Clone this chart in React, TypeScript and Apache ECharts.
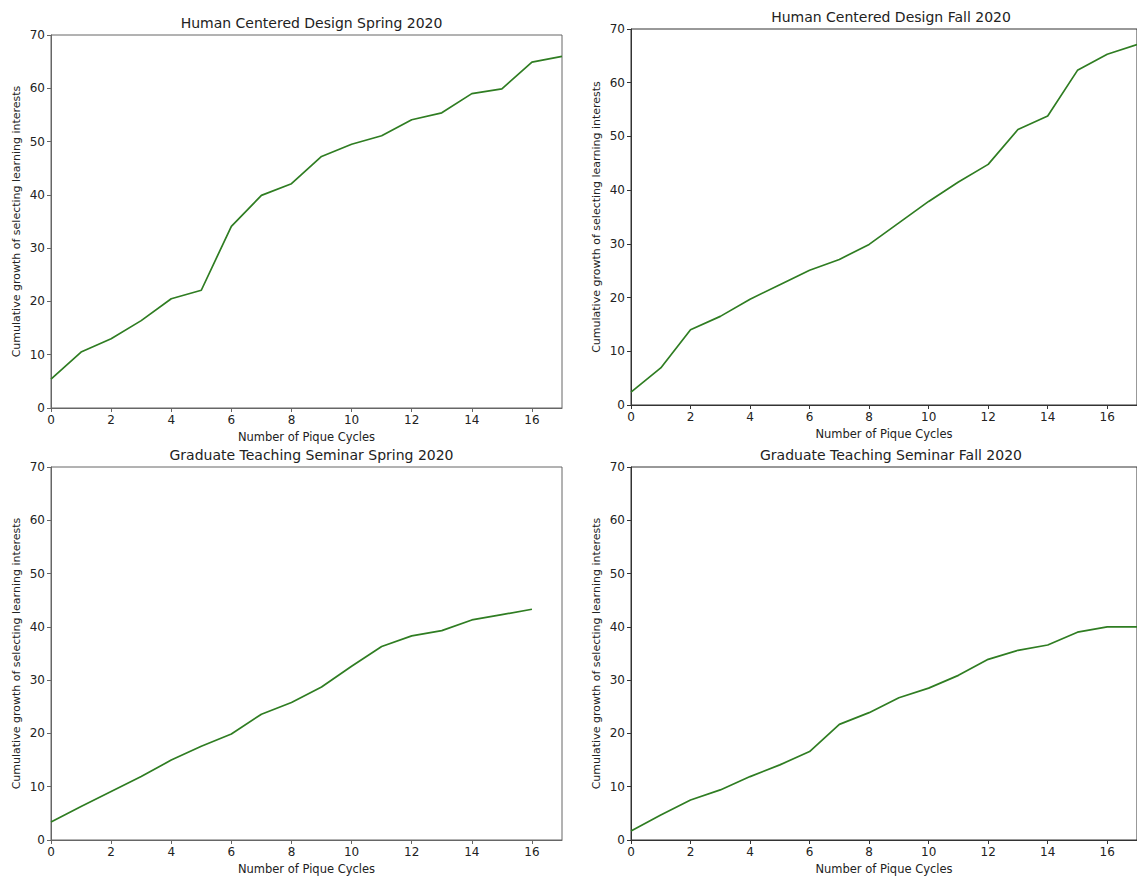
import React, { useEffect, useRef } from "react";
import * as echarts from "echarts";

const cycles = [0, 1, 2, 3, 4, 5, 6, 7, 8, 9, 10, 11, 12, 13, 14, 15, 16, 17];
const cyclesGTS = [0, 1, 2, 3, 4, 5, 6, 7, 8, 9, 10, 11, 12, 13, 14, 15, 16];
const hcdSpring = [5.4, 10.5, 13.0, 16.4, 20.5, 22.1, 34.1, 39.9, 42.1, 47.2, 49.5, 51.1, 54.1, 55.4, 59.0, 59.9, 64.9, 66.0];
const hcdFall = [2.4, 6.9, 14.0, 16.5, 19.7, 22.4, 25.1, 27.1, 29.9, 33.9, 37.9, 41.5, 44.8, 51.3, 53.8, 62.3, 65.3, 67.1];
const gtsSpring = [3.4, 6.3, 9.1, 11.9, 15.0, 17.6, 19.9, 23.6, 25.8, 28.7, 32.6, 36.3, 38.3, 39.3, 41.3, 42.3, 43.3];
const gtsFall = [1.7, 4.7, 7.5, 9.4, 11.9, 14.1, 16.6, 21.7, 23.9, 26.7, 28.5, 30.9, 33.9, 35.6, 36.6, 39.0, 40.0, 40.0];
const titles = [
  "Human Centered Design Spring 2020",
  "Human Centered Design Fall 2020",
  "Graduate Teaching Seminar Spring 2020",
  "Graduate Teaching Seminar Fall 2020",
];
const xTicks = [0, 2, 4, 6, 8, 10, 12, 14, 16];
const yTicks = [0, 10, 20, 30, 40, 50, 60, 70];
const xLabel = "Number of Pique Cycles";
const yLabel = "Cumulative growth of selecting learning interests";

const FONT = "DejaVu Sans";
const LINE = "#2f7d22";

export default function App() {
  const ref = useRef<HTMLDivElement>(null);
  useEffect(() => {
    if (!ref.current) return;
    const chart = echarts.init(ref.current, null, { renderer: "svg" });
    const grids = [
      { left: 51, top: 35, width: 511, height: 373, spine: "#666" },
      { left: 631, top: 29, width: 510, height: 376, spine: "#333" },
      { left: 51, top: 467, width: 511, height: 373, spine: "#666" },
      { left: 631, top: 467, width: 510, height: 373, spine: "#333" },
    ];
    const xs = [cycles, cycles, cyclesGTS, cycles];
    const ys = [hcdSpring, hcdFall, gtsSpring, gtsFall];
    const option: any = {
      animation: false,
      backgroundColor: "#ffffff",
      title: grids.map((g, i) => ({
        text: titles[i],
        left: g.left + g.width / 2,
        top: g.top - 24,
        textAlign: "center",
        textStyle: { fontFamily: FONT, fontSize: 14, fontWeight: "normal", color: "#222" },
      })),
      grid: grids.map((g) => ({
        left: g.left,
        top: g.top,
        width: g.width,
        height: g.height,
        show: true,
        borderColor: g.spine,
        borderWidth: 1,
        backgroundColor: "transparent",
      })),
      xAxis: grids.map((g, i) => ({
        type: "value",
        gridIndex: i,
        min: 0,
        max: 17,
        interval: 2,
        name: xLabel,
        nameLocation: "middle",
        nameGap: 23,
        nameTextStyle: { fontFamily: FONT, fontSize: 11.5, color: "#222" },
        axisLine: { show: true, lineStyle: { color: g.spine, width: 1 } },
        axisTick: { show: true, length: 4, lineStyle: { color: g.spine }, customValues: xTicks },
        axisLabel: { fontFamily: FONT, fontSize: 12, color: "#222", margin: 6, customValues: xTicks },
        splitLine: { show: false },
      })),
      yAxis: grids.map((g, i) => ({
        type: "value",
        gridIndex: i,
        min: 0,
        max: 70,
        interval: 10,
        name: yLabel,
        nameLocation: "middle",
        nameGap: 29,
        nameRotate: 90,
        nameTextStyle: { fontFamily: FONT, fontSize: 11, color: "#222" },
        axisLine: { show: true, lineStyle: { color: g.spine, width: 1 } },
        axisTick: { show: true, length: 4, lineStyle: { color: g.spine }, customValues: yTicks },
        axisLabel: { fontFamily: FONT, fontSize: 12, color: "#222", margin: 6, customValues: yTicks },
        splitLine: { show: false },
      })),
      series: ys.map((d, i) => ({
        type: "line",
        xAxisIndex: i,
        yAxisIndex: i,
        data: d.map((v, j) => [xs[i][j], v]),
        showSymbol: false,
        symbol: "none",
        lineStyle: { color: LINE, width: 1.7 },
        clip: true,
      })),
    };
    chart.setOption(option);
    return () => chart.dispose();
  }, []);
  return (
    <div
      ref={ref}
      style={{ position: "absolute", left: 0, top: 0, width: 1137, height: 876, background: "#fff" }}
    />
  );
}
